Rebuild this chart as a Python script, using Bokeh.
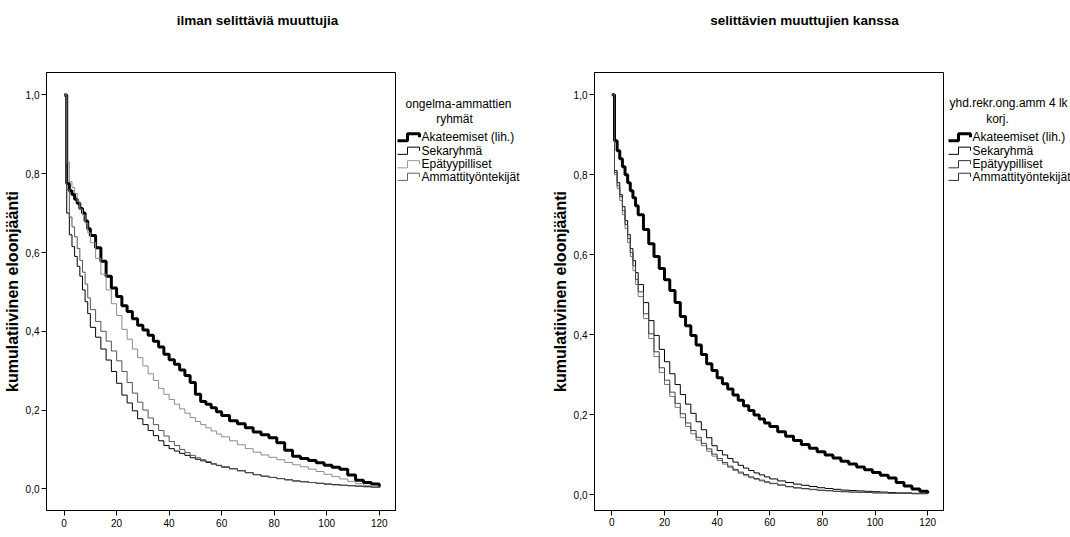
from bokeh.plotting import figure
from bokeh.layouts import row, column
from bokeh.models import FixedTicker, Range1d
from bokeh.core.properties import value
from bokeh.embed import file_html
from bokeh.resources import INLINE

# ---------------- data ----------------
TITLES = ["ilman selittäviä muuttujia", "selittävien muuttujien kanssa"]
Y_LABEL = "kumulatiivinen eloonjäänti"
LEGEND_TITLES = [["ongelma-ammattien", "ryhmät"], ["yhd.rekr.ong.amm 4 lk", "korj."]]
GROUPS = ["Akateemiset (lih.)", "Sekaryhmä", "Epätyypilliset", "Ammattityöntekijät"]

X_TICKS = [0, 20, 40, 60, 80, 100, 120]
Y_TICKS = [0.0, 0.2, 0.4, 0.6, 0.8, 1.0]
Y_TICK_LABELS = ["0,0", "0,2", "0,4", "0,6", "0,8", "1,0"]

months = ([0, 1, 2, 3, 4, 5, 6, 7, 8, 9, 10]
          + [12, 14, 16, 18, 20, 22, 24, 26, 28, 30, 32, 34, 36, 38, 40, 42, 44, 46, 48, 50,
             52, 54, 56, 58, 60]
          + [63, 66, 69, 72, 75, 78, 81, 84, 87, 90, 93, 96, 99, 102, 105, 108, 111, 114,
             117, 120])

# left panel: without explanatory variables
akat_1 = ([1.0, 0.775, 0.757, 0.747, 0.735, 0.725, 0.712, 0.70, 0.68, 0.66, 0.643]
          + [0.612, 0.578, 0.54, 0.51, 0.488, 0.465, 0.45, 0.432, 0.415, 0.403, 0.39, 0.375,
             0.36, 0.342, 0.328, 0.316, 0.302, 0.288, 0.27, 0.24, 0.222, 0.215, 0.206, 0.196,
             0.186]
          + [0.173, 0.165, 0.155, 0.144, 0.137, 0.13, 0.117, 0.098, 0.083, 0.077, 0.072, 0.066,
             0.06, 0.055, 0.05, 0.035, 0.022, 0.016, 0.012, 0.004])
seka_1 = ([1.0, 0.70, 0.645, 0.615, 0.59, 0.565, 0.54, 0.505, 0.475, 0.445, 0.41]
          + [0.385, 0.355, 0.327, 0.298, 0.268, 0.238, 0.218, 0.198, 0.178, 0.163, 0.148, 0.135,
             0.122, 0.11, 0.102, 0.096, 0.09, 0.085, 0.079, 0.075, 0.071, 0.067, 0.063, 0.059,
             0.055]
          + [0.051, 0.046, 0.041, 0.036, 0.032, 0.029, 0.026, 0.023, 0.02, 0.018, 0.016, 0.014,
             0.012, 0.011, 0.009, 0.008, 0.007, 0.006, 0.004, 0.003])
epat_1 = ([1.0, 0.83, 0.78, 0.765, 0.75, 0.73, 0.71, 0.695, 0.675, 0.65, 0.625]
          + [0.585, 0.545, 0.505, 0.47, 0.44, 0.405, 0.38, 0.355, 0.333, 0.312, 0.292, 0.275,
             0.255, 0.24, 0.227, 0.215, 0.203, 0.192, 0.181, 0.171, 0.163, 0.155, 0.147, 0.139,
             0.132]
          + [0.122, 0.112, 0.102, 0.093, 0.086, 0.08, 0.074, 0.067, 0.061, 0.056, 0.05, 0.044,
             0.037, 0.031, 0.025, 0.019, 0.013, 0.009, 0.005, 0.002])
amma_1 = ([1.0, 0.76, 0.69, 0.665, 0.64, 0.61, 0.58, 0.55, 0.52, 0.485, 0.455]
          + [0.425, 0.40, 0.375, 0.35, 0.325, 0.298, 0.27, 0.243, 0.22, 0.20, 0.18, 0.163,
             0.148, 0.134, 0.12, 0.11, 0.10, 0.092, 0.085, 0.079, 0.074, 0.069, 0.064, 0.06,
             0.056]
          + [0.051, 0.046, 0.041, 0.036, 0.032, 0.029, 0.026, 0.023, 0.02, 0.018, 0.016, 0.014,
             0.012, 0.01, 0.009, 0.008, 0.006, 0.005, 0.004, 0.003])

# right panel: with explanatory variables
akat_2 = ([1.0, 0.885, 0.86, 0.84, 0.82, 0.80, 0.78, 0.76, 0.742, 0.722, 0.70]
          + [0.663, 0.627, 0.595, 0.565, 0.537, 0.51, 0.48, 0.445, 0.422, 0.398, 0.374, 0.35,
             0.327, 0.31, 0.292, 0.277, 0.264, 0.249, 0.236, 0.222, 0.21, 0.199, 0.189, 0.179,
             0.17]
          + [0.157, 0.146, 0.135, 0.125, 0.116, 0.107, 0.099, 0.091, 0.083, 0.076, 0.069, 0.062,
             0.055, 0.048, 0.041, 0.03, 0.021, 0.014, 0.008, 0.003])
seka_2 = ([1.0, 0.81, 0.78, 0.75, 0.72, 0.685, 0.65, 0.615, 0.585, 0.555, 0.525]
          + [0.48, 0.435, 0.398, 0.363, 0.332, 0.302, 0.275, 0.25, 0.226, 0.203, 0.182, 0.162,
             0.142, 0.122, 0.11, 0.099, 0.09, 0.081, 0.073, 0.066, 0.06, 0.054, 0.049, 0.044,
             0.039]
          + [0.034, 0.03, 0.026, 0.023, 0.02, 0.017, 0.015, 0.013, 0.011, 0.01, 0.009, 0.008,
             0.007, 0.006, 0.005, 0.004, 0.004, 0.003, 0.003, 0.002])
epat_2 = ([1.0, 0.80, 0.765, 0.735, 0.70, 0.665, 0.63, 0.595, 0.56, 0.525, 0.495]
          + [0.44, 0.39, 0.345, 0.305, 0.275, 0.245, 0.218, 0.192, 0.17, 0.152, 0.136, 0.122,
             0.108, 0.096, 0.085, 0.076, 0.068, 0.06, 0.053, 0.047, 0.042, 0.038, 0.034, 0.03,
             0.027]
          + [0.023, 0.019, 0.016, 0.014, 0.012, 0.01, 0.009, 0.008, 0.007, 0.006, 0.005, 0.005,
             0.004, 0.004, 0.003, 0.003, 0.003, 0.002, 0.002, 0.002])
amma_2 = ([1.0, 0.805, 0.772, 0.745, 0.71, 0.675, 0.64, 0.605, 0.572, 0.538, 0.507]
          + [0.452, 0.402, 0.357, 0.317, 0.286, 0.256, 0.228, 0.202, 0.179, 0.16, 0.143, 0.128,
             0.114, 0.101, 0.09, 0.08, 0.071, 0.063, 0.056, 0.05, 0.044, 0.04, 0.036, 0.032,
             0.028]
          + [0.024, 0.02, 0.017, 0.015, 0.013, 0.011, 0.01, 0.008, 0.007, 0.006, 0.006, 0.005,
             0.004, 0.004, 0.003, 0.003, 0.003, 0.002, 0.002, 0.002])

PANEL_SERIES = [[akat_1, seka_1, epat_1, amma_1], [akat_2, seka_2, epat_2, amma_2]]

# ---------------- styles ----------------
FONT = "Liberation Sans, Arial, sans-serif"
LINE_STYLES = [
    [dict(color="#000000", width=3), dict(color="#000000", width=1),
     dict(color="#8c8c8c", width=1), dict(color="#555555", width=1)],
    [dict(color="#000000", width=3), dict(color="#000000", width=1),
     dict(color="#777777", width=1), dict(color="#444444", width=1)],
]
LEGEND_STYLES = [
    [dict(color="#000000", width=3), dict(color="#000000", width=1),
     dict(color="#999999", width=1), dict(color="#666666", width=1)],
    [dict(color="#000000", width=3), dict(color="#000000", width=1),
     dict(color="#333333", width=1), dict(color="#333333", width=1)],
]

HEADER_H = 50
ROW_H = 487
X_RANGES = [(-6.7, 126.2), (-6.6, 126.0)]
Y_RANGES = [(-0.055, 1.057), (-0.040, 1.0555)]
BOTTOM_BORDERS = [27, 20]
X_LABEL_STANDOFF = [3, 2]


def make_plot(idx):
    p = figure(width=396, height=ROW_H, output_backend="svg", toolbar_location=None,
               x_range=Range1d(*X_RANGES[idx]), y_range=Range1d(*Y_RANGES[idx]),
               min_border_left=45, min_border_right=1, min_border_top=22,
               min_border_bottom=BOTTOM_BORDERS[idx])
    p.grid.visible = False
    p.outline_line_color = "black"
    p.outline_line_width = 1
    p.outline_line_alpha = 1.0
    p.background_fill_color = "white"
    p.border_fill_color = "white"

    n = min(len(months), *(len(s) for s in PANEL_SERIES[idx]))
    for series, st in zip(PANEL_SERIES[idx], LINE_STYLES[idx]):
        p.step(months[:n], series[:n], mode="after", line_color=st["color"],
               line_width=st["width"])

    xa = p.xaxis[0]
    xa.ticker = FixedTicker(ticks=X_TICKS)
    xa.minor_tick_line_color = None
    xa.major_tick_in = 0
    xa.major_tick_out = 5
    xa.major_label_standoff = X_LABEL_STANDOFF[idx]
    xa.major_label_text_font = FONT
    xa.major_label_text_font_size = "10px"
    xa.major_label_text_color = "black"
    xa.axis_line_color = "black"

    ya = p.yaxis[0]
    ya.ticker = FixedTicker(ticks=Y_TICKS)
    ya.major_label_overrides = {t: l for t, l in zip(Y_TICKS, Y_TICK_LABELS)}
    ya.minor_tick_line_color = None
    ya.major_tick_in = 0
    ya.major_tick_out = 5
    ya.major_label_standoff = 2
    ya.major_label_text_font = FONT
    ya.major_label_text_font_size = "10px"
    ya.major_label_text_color = "black"
    ya.axis_line_color = "black"
    ya.axis_label = Y_LABEL
    ya.axis_label_text_font = FONT
    ya.axis_label_text_font_style = "bold"
    ya.axis_label_text_font_size = "16px"
    ya.axis_label_text_color = "black"
    ya.axis_label_standoff = 2
    return p


def make_legend(idx, width, title_pos, sym_x):
    p = figure(width=width, height=ROW_H, output_backend="svg", toolbar_location=None,
               x_range=Range1d(0, width), y_range=Range1d(ROW_H, 0),
               min_border=0)
    p.axis.visible = False
    p.grid.visible = False
    p.outline_line_color = None
    for (tx, ty, align), txt in zip(title_pos, LEGEND_TITLES[idx]):
        p.text(x=[tx], y=[ty], text=[txt], text_align=align, text_baseline="middle",
               text_font=value(FONT), text_font_size="12px", text_color="black")
    item_y = [72, 87, 102, 116]
    for name, st, yy in zip(GROUPS, LEGEND_STYLES[idx], item_y):
        x0 = sym_x
        p.line(x=[x0, x0 + 10, x0 + 10, x0 + 22, x0 + 22],
               y=[yy + 4, yy + 4, yy - 4, yy - 4, yy],
               line_color=st["color"], line_width=st["width"])
        p.text(x=[x0 + 24], y=[yy], text=[name], text_align="left", text_baseline="middle",
               text_font=value(FONT), text_font_size="12px", text_color="black")
    return p


header = figure(width=1070, height=HEADER_H, output_backend="svg", toolbar_location=None,
                x_range=Range1d(0, 1070), y_range=Range1d(HEADER_H, 0), min_border=0)
header.axis.visible = False
header.grid.visible = False
header.outline_line_color = None
for tx, txt in zip([257, 804], TITLES):
    header.text(x=[tx], y=[20], text=[txt], text_align="center", text_baseline="middle",
                text_font=value(FONT), text_font_style="bold", text_font_size="13.5px",
                text_color="black")

p1 = make_plot(0)
l1 = make_legend(0, 152, [(62, 35, "center"), (58, 52, "center")], 1)
p2 = make_plot(1)
l2 = make_legend(1, 126, [(5, 34, "left"), (53, 52, "center")], 4)

layout = column(header, row(p1, l1, p2, l2))

open("out.html", "w").write(file_html(layout, INLINE))
